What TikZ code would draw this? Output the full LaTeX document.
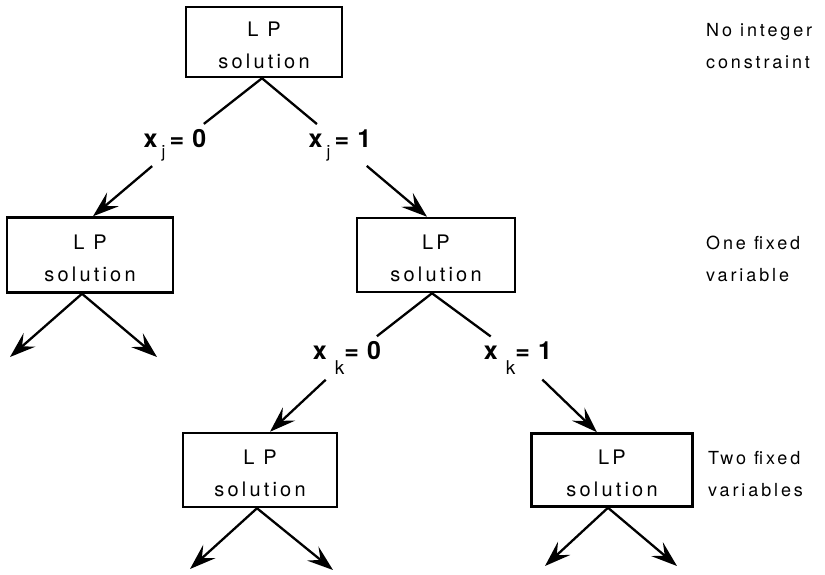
\documentclass[tikz,border=0pt]{standalone}
\usepackage{fontspec}
\setmainfont{TeX Gyre Heros}[LetterSpace=16]
\usetikzlibrary{arrows.meta}
\newcommand{\lpfirst}{\rule{0pt}{21.5pt}}
\tikzset{
  lpbox/.style={draw, line width=2.5pt, minimum width=#1, minimum height=73pt,
    align=center, inner sep=0pt, font=\fontsize{20}{32}\selectfont},
  conn/.style={line width=2.3pt},
  arr/.style={conn, -{Stealth[length=26pt,width=18pt,inset=10pt]}},
  lbl/.style={inner sep=5pt, font=\fontsize{25}{25}\selectfont},
  side/.style={anchor=west, align=left, inner sep=0pt, font=\fontsize{18}{32}\selectfont},
}
\newcommand{\subj}[1]{\raisebox{-10pt}{\fontsize{17}{17}\selectfont #1}}
\newcommand{\subk}[1]{\raisebox{-15pt}{\fontsize{19}{19}\selectfont #1}}
\begin{document}
\begin{tikzpicture}[x=1pt,y=-1pt]
\useasboundingbox (0,0) rectangle (825,575);
% boxes
\node[lpbox=156pt, minimum height=70pt] (top) at (264,42) {\lpfirst L P\\solution};
\node[lpbox=166pt, minimum height=75pt] (left) at (90,255) {\lpfirst L P\\solution};
\node[lpbox=158pt, minimum height=74pt] (mid) at (436,255) {\lpfirst LP\\solution};
\node[lpbox=154pt, minimum height=74pt] (bl) at (260,470) {\lpfirst L P\\solution};
\node[lpbox=161pt, minimum height=73pt] (br) at (612,470) {\lpfirst LP\\solution};
% labels
\node[lbl] (lj0) at (177,145) {\textbf{x}\subj{j}\,\textbf{=}\,\textbf{0}};
\node[lbl] (lj1) at (342,145) {\textbf{x}\subj{j}\,\textbf{=}\,\textbf{1}};
\node[lbl] (lk0) at (349,358) {\textbf{x}\,\subk{k}\textbf{=}\,\textbf{0}};
\node[lbl] (lk1) at (520,358) {\textbf{x}\,\subk{k}\textbf{=}\,\textbf{1}};
% side texts
\node[side] (s1) at (706,42) {\lpfirst No\hspace{0.45em}integer\\constraint};
\node[side] (s2) at (706,255) {\lpfirst One\hspace{0.45em}fixed\\variable};
\node[side] (s3) at (708,470) {\lpfirst Two\hspace{0.45em}fixed\\variables};
% free ends
\coordinate (l1) at (10,357);
\coordinate (l2) at (157,357);
\coordinate (b1) at (190,569);
\coordinate (b2) at (333,570);
\coordinate (b3) at (545,566);
\coordinate (b4) at (677,566);
% connectors
\draw[conn] ([xshift=-2pt]top.south) -- (lj0);
\draw[arr] (lj0) -- ([xshift=3pt]left.north);
\draw[conn] ([xshift=-2pt]top.south) -- (lj1);
\draw[arr] (lj1) -- ([xshift=-9pt]mid.north);
\draw[conn] ([xshift=-4pt]mid.south) -- (lk0);
\draw[arr] (lk0) -- ([xshift=10pt]bl.north);
\draw[conn] ([xshift=-4pt]mid.south) -- (lk1);
\draw[arr] (lk1) -- ([xshift=-15pt]br.north);
\draw[arr] ([xshift=-8pt]left.south) -- (l1);
\draw[arr] ([xshift=-8pt]left.south) -- (l2);
\draw[arr] ([xshift=-3pt]bl.south) -- (b1);
\draw[arr] ([xshift=-3pt]bl.south) -- (b2);
\draw[arr] ([xshift=-4pt]br.south) -- (b3);
\draw[arr] ([xshift=-4pt]br.south) -- (b4);
\end{tikzpicture}
\end{document}
